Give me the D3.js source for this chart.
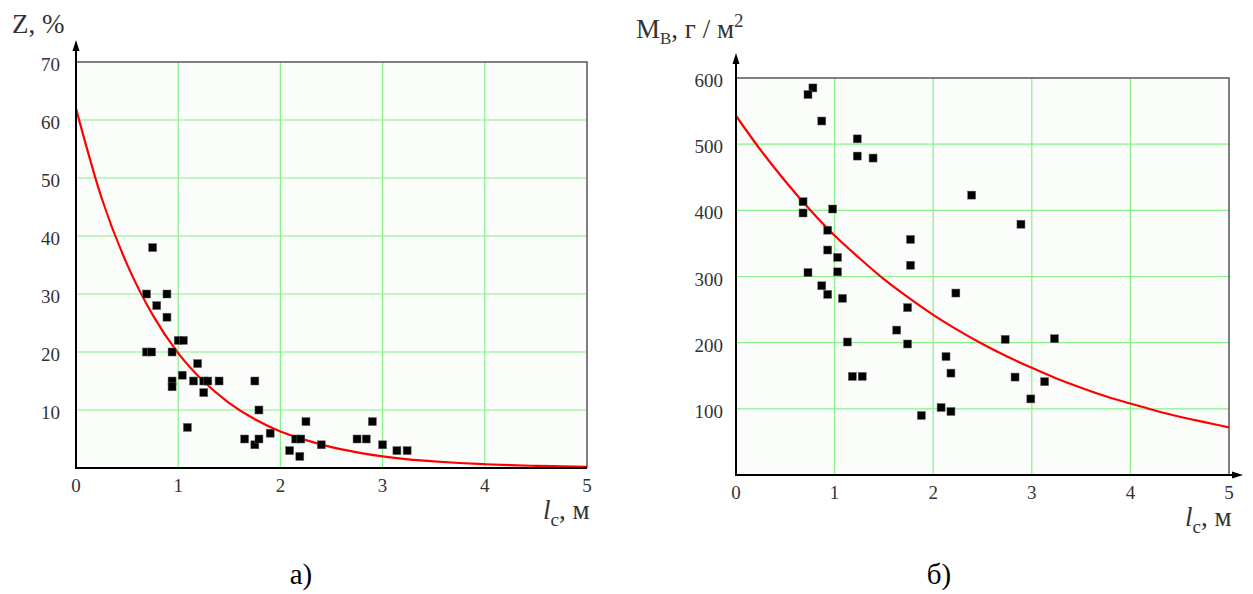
<!DOCTYPE html>
<html>
<head>
<meta charset="utf-8">
<script src="https://cdn.jsdelivr.net/npm/d3@7"></script>
<style>
  html, body { margin: 0; padding: 0; background: #ffffff; }
  svg { display: block; }
</style>
</head>
<body>
<svg id="chart" width="1253" height="594" font-family="'Liberation Serif', 'Times New Roman', Tinos, 'DejaVu Serif', serif"></svg>
<script>
// ---------- DATA ----------
const xTickLabels = [0, 1, 2, 3, 4, 5];
const zTickLabels = [10, 20, 30, 40, 50, 60, 70];
const mTickLabels = [100, 200, 300, 400, 500, 600];

// Panel a) : Z, % vs l_c, m  (measured points)
const zPointsX = [0.75, 0.69, 0.89, 0.79, 0.89, 1.00, 1.05, 0.69, 0.74, 0.94, 1.19, 1.04, 0.94, 0.94, 1.15, 1.25, 1.29, 1.40, 1.25, 1.75, 1.79, 1.09, 1.65, 1.75, 1.79, 1.90, 2.09, 2.15, 2.20, 2.19, 2.25, 2.40, 2.75, 2.84, 2.90, 3.00, 3.14, 3.24];
const zPointsY = [38, 30, 30, 28, 26, 22, 22, 20, 20, 20, 18, 16, 15, 14, 15, 15, 15, 15, 13, 15, 10, 7, 5, 4, 5, 6, 3, 5, 5, 2, 8, 4, 5, 5, 8, 4, 3, 3];

// Panel б) : M_в, г/м² vs l_c, m  (measured points)
const mPointsX = [0.78, 0.73, 0.87, 1.23, 1.23, 1.39, 0.68, 0.68, 0.98, 0.93, 0.93, 1.03, 0.73, 1.03, 0.87, 0.93, 1.08, 1.13, 1.18, 1.28, 1.77, 1.77, 1.74, 1.63, 1.74, 2.39, 2.23, 2.13, 2.18, 1.88, 2.08, 2.18, 2.89, 2.73, 3.23, 2.83, 3.13, 2.99];
const mPointsY = [585, 575, 535, 508, 482, 479, 413, 396, 402, 370, 340, 329, 306, 307, 286, 273, 267, 201, 149, 149, 356, 317, 253, 219, 198, 423, 275, 179, 154, 90, 102, 96, 379, 205, 206, 148, 141, 115];

// Fitted curves, values
const curveX = [0, 0.25, 0.5, 0.75, 1, 1.25, 1.5, 1.75, 2, 2.25, 2.5, 2.75, 3, 3.25, 3.5, 3.75, 4, 4.25, 4.5, 4.75, 5];
const zCurveY = [62, 46.6, 35.1, 26.4, 19.8, 14.9, 11.2, 8.4, 6.3, 4.8, 3.6, 2.7, 2.0, 1.5, 1.15, 0.86, 0.65, 0.49, 0.37, 0.28, 0.21];
const mCurveY = [543, 491, 444, 401, 362, 328, 296, 268, 242, 219, 198, 179, 162, 146, 132, 119, 108, 97.5, 88, 80, 72];

// ---------- LAYOUT ----------
const svg = d3.select("#chart");
const SERIF = "'Liberation Serif', 'Times New Roman', Tinos, 'DejaVu Serif', serif";

const panels = [
  { id: "a", xL: 76, xR: 587, yT: 62, yB: 468, yMax: 70, yTicks: zTickLabels,
    px: zPointsX, py: zPointsY, cy: zCurveY, yArrowTip: 40, xArrowTip: null,
    yLabelX: 60, caption: "а)", capX: 301 },
  { id: "b", xL: 736, xR: 1229, yT: 78, yB: 475, yMax: 600, yTicks: mTickLabels,
    px: mPointsX, py: mPointsY, cy: mCurveY, yArrowTip: 53, xArrowTip: 1243,
    yLabelX: 723, caption: "б)", capX: 939 }
];

panels.forEach(p => {
  const x = d3.scaleLinear().domain([0, 5]).range([p.xL, p.xR]);
  const y = d3.scaleLinear().domain([0, p.yMax]).range([p.yB, p.yT]);
  const g = svg.append("g");

  // background
  g.append("rect")
    .attr("x", p.xL).attr("y", p.yT)
    .attr("width", p.xR - p.xL).attr("height", p.yB - p.yT)
    .attr("fill", "#fafdf9");

  // grid
  g.selectAll(".gx").data(xTickLabels.filter(v => v > 0 && v < 5)).enter()
    .append("line")
    .attr("x1", d => x(d)).attr("x2", d => x(d))
    .attr("y1", p.yT).attr("y2", p.yB)
    .attr("stroke", "#8af08a").attr("stroke-width", 1.2);
  g.selectAll(".gy").data(p.yTicks.filter(v => v < p.yMax)).enter()
    .append("line")
    .attr("x1", p.xL).attr("x2", p.xR)
    .attr("y1", d => y(d)).attr("y2", d => y(d))
    .attr("stroke", "#8af08a").attr("stroke-width", 1.2);

  // top / right border
  g.append("path")
    .attr("d", `M${p.xL},${y(p.yMax)}H${x(5)}V${p.yB}`)
    .attr("fill", "none").attr("stroke", "#555").attr("stroke-width", 1.5);

  // curve
  const clipId = "clip-" + p.id;
  svg.append("clipPath").attr("id", clipId).append("rect")
    .attr("x", p.xL).attr("y", p.yT - 2).attr("width", p.xR - p.xL).attr("height", p.yB - p.yT + 1);
  const line = d3.line().x((d, i) => x(curveX[i])).y(d => y(d)).curve(d3.curveMonotoneX);
  g.append("path")
    .datum(p.cy)
    .attr("d", line)
    .attr("clip-path", `url(#${clipId})`)
    .attr("fill", "none").attr("stroke", "#ff0000").attr("stroke-width", 2.2);

  // points
  const s = 8;
  g.selectAll(".pt").data(p.px).enter()
    .append("rect")
    .attr("x", (d, i) => x(d) - s / 2)
    .attr("y", (d, i) => y(p.py[i]) - s / 2)
    .attr("width", s).attr("height", s)
    .attr("fill", "#000").attr("stroke", "#666").attr("stroke-width", 0.5);

  // axes
  g.append("line").attr("x1", p.xL).attr("x2", p.xL)
    .attr("y1", p.yB + 1).attr("y2", p.yArrowTip + 6)
    .attr("stroke", "#000").attr("stroke-width", 2);
  g.append("path")
    .attr("d", `M${p.xL},${p.yArrowTip}L${p.xL - 3.5},${p.yArrowTip + 11}L${p.xL + 3.5},${p.yArrowTip + 11}Z`)
    .attr("fill", "#000");
  const xEnd = p.xArrowTip ? p.xArrowTip - 6 : p.xR;
  g.append("line").attr("x1", p.xL - 1).attr("x2", xEnd)
    .attr("y1", p.yB).attr("y2", p.yB)
    .attr("stroke", "#000").attr("stroke-width", 2);
  if (p.xArrowTip) {
    g.append("path")
      .attr("d", `M${p.xArrowTip},${p.yB}L${p.xArrowTip - 11},${p.yB - 3.5}L${p.xArrowTip - 11},${p.yB + 3.5}Z`)
      .attr("fill", "#000");
  }

  // tick labels
  g.selectAll(".yl").data(p.yTicks).enter()
    .append("text")
    .attr("x", p.yLabelX).attr("y", d => y(d) + 9)
    .attr("text-anchor", "end")
    .attr("font-family", SERIF).attr("font-size", 19).attr("fill", "#333")
    .text(d => d);
  g.selectAll(".xl").data(xTickLabels).enter()
    .append("text")
    .attr("x", d => x(d)).attr("y", p.yB + 24)
    .attr("text-anchor", "middle")
    .attr("font-family", SERIF).attr("font-size", 19).attr("fill", "#333")
    .text(d => d);

  // x-axis title l_c, м
  const xt = g.append("text").attr("x", x(5) - 44).attr("y", p.yB + 51)
    .attr("font-family", SERIF).attr("font-size", 27).attr("fill", "#333");
  xt.append("tspan").attr("font-style", "italic").text("l");
  xt.append("tspan").attr("font-size", 19).attr("dy", 7).text("с");
  xt.append("tspan").attr("dy", -7).text(", м");

  // caption
  g.append("text").attr("x", p.capX).attr("y", 584)
    .attr("text-anchor", "middle")
    .attr("font-family", SERIF).attr("font-size", 29).attr("fill", "#000")
    .text(p.caption);
});

// y titles
svg.append("text").attr("x", 12).attr("y", 33)
  .attr("font-family", SERIF).attr("font-size", 27).attr("fill", "#333")
  .text("Z, %");

const t2 = svg.append("text").attr("x", 636).attr("y", 38)
  .attr("font-family", SERIF).attr("font-size", 27).attr("fill", "#333");
t2.append("tspan").text("M");
t2.append("tspan").attr("font-size", 17).attr("dy", 6).text("В");
t2.append("tspan").attr("dy", -6).text(", г / м");
t2.append("tspan").attr("font-size", 19).attr("dy", -11).text("2");
</script>
</body>
</html>
